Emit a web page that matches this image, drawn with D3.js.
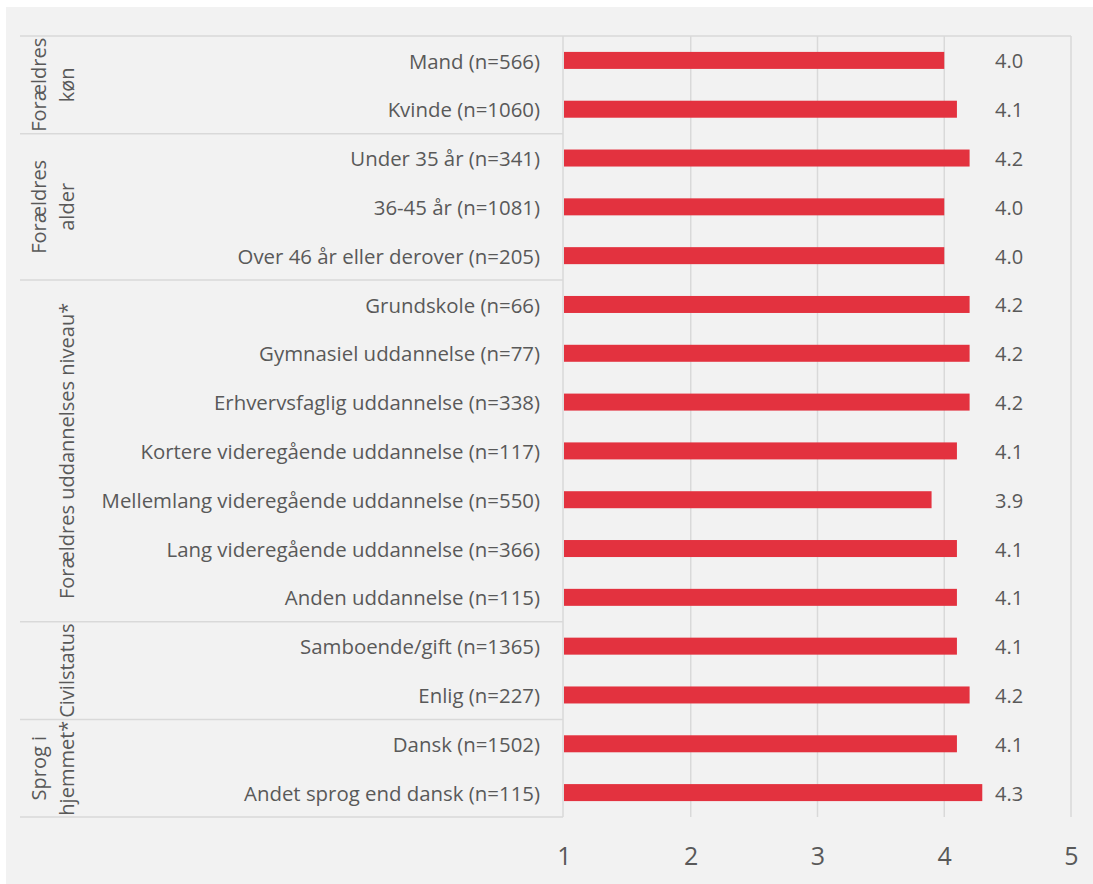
<!DOCTYPE html>
<html><head><meta charset="utf-8">
<script src="https://cdn.jsdelivr.net/npm/d3@7"></script>
<style>html,body{margin:0;padding:0;background:#fff;}svg{display:block;}</style>
</head><body>
<svg id="chart" width="1093" height="884"></svg>
<script>
const categories = [
  "Mand (n=566)", "Kvinde (n=1060)",
  "Under 35 år (n=341)", "36-45 år (n=1081)", "Over 46 år eller derover (n=205)",
  "Grundskole (n=66)", "Gymnasiel uddannelse (n=77)", "Erhvervsfaglig uddannelse (n=338)",
  "Kortere videregående uddannelse (n=117)", "Mellemlang videregående uddannelse (n=550)",
  "Lang videregående uddannelse (n=366)", "Anden uddannelse (n=115)",
  "Samboende/gift (n=1365)", "Enlig (n=227)",
  "Dansk (n=1502)", "Andet sprog end dansk (n=115)"
];
const values = [4.0, 4.1, 4.2, 4.0, 4.0, 4.2, 4.2, 4.2, 4.1, 3.9, 4.1, 4.1, 4.1, 4.2, 4.1, 4.3];
const groupNames = [["Forældres", "køn"], ["Forældres", "alder"], ["Forældres uddannelses niveau*"], ["Civilstatus"], ["Sprog i", "hjemmet*"]];
const groupSizes = [2, 3, 7, 2, 2];
const tickValues = [1, 2, 3, 4, 5];

const svg = d3.select("#chart");
const font = "'Open Sans', 'Noto Sans', sans-serif";
const textColor = "#595959";
const lineColor = "#d9d9d9";

svg.append("rect").attr("x", 6).attr("y", 7).attr("width", 1087).attr("height", 877).attr("fill", "#f2f2f2");

const x = d3.scaleLinear().domain([1, 5]).range([564, 1071]);
const y = d3.scaleBand().domain(categories).range([36, 817]).padding(0);
const barH = 17;

// vertical gridlines
svg.append("g").selectAll("line").data(tickValues.slice(1)).join("line")
  .attr("x1", d => x(d)).attr("x2", d => x(d))
  .attr("y1", 36).attr("y2", 817)
  .attr("stroke", lineColor).attr("stroke-width", 1.5);

// top border of plot
svg.append("line").attr("x1", 20).attr("x2", 1071).attr("y1", 36).attr("y2", 36)
  .attr("stroke", lineColor).attr("stroke-width", 1.5);
// axis line
svg.append("line").attr("x1", 563).attr("x2", 563).attr("y1", 36).attr("y2", 817)
  .attr("stroke", lineColor).attr("stroke-width", 1.5);

// group separators
let idx = 0;
const groups = groupSizes.map((n, i) => {
  const start = idx; idx += n;
  return { lines: groupNames[i], y0: y(categories[start]), y1: y(categories[idx - 1]) + y.bandwidth() };
});
svg.append("g").selectAll("line").data(groups).join("line")
  .attr("x1", 20).attr("x2", 563)
  .attr("y1", d => d.y1).attr("y2", d => d.y1)
  .attr("stroke", lineColor).attr("stroke-width", 1.5);

// group labels
const gl = svg.append("g").selectAll("g").data(groups).join("g")
  .attr("transform", d => `translate(0,${(d.y0 + d.y1) / 2})`);
gl.each(function (d) {
  const g = d3.select(this);
  const baselines = d.lines.length === 2 ? [46, 74] : [74];
  d.lines.forEach((t, i) => {
    g.append("text")
      .attr("transform", `translate(${baselines[i]},0) rotate(-90)`)
      .attr("text-anchor", "middle")
      .attr("font-family", font).attr("font-size", 20).attr("fill", textColor)
      .text(t);
  });
});

// bars
svg.append("g").selectAll("rect").data(values).join("rect")
  .attr("x", x(1))
  .attr("y", (d, i) => y(categories[i]) + y.bandwidth() / 2 - barH / 2)
  .attr("width", d => x(d) - x(1))
  .attr("height", barH)
  .attr("fill", "#e3323f");

// category labels
svg.append("g").selectAll("text").data(categories).join("text")
  .attr("x", 540)
  .attr("y", d => y(d) + y.bandwidth() / 2 + 1)
  .attr("dy", "0.35em")
  .attr("text-anchor", "end")
  .attr("font-family", font).attr("font-size", 20.4).attr("fill", textColor)
  .text(d => d);

// value labels
svg.append("g").selectAll("text").data(values).join("text")
  .attr("x", 995)
  .attr("y", (d, i) => y(categories[i]) + y.bandwidth() / 2 + 1)
  .attr("dy", "0.35em")
  .attr("font-family", font).attr("font-size", 20).attr("fill", textColor)
  .text(d => d3.format(".1f")(d));

// x axis tick labels
const axis = d3.axisBottom(x).tickValues(tickValues).tickSize(0).tickPadding(0).tickFormat(d3.format("d"));
const ax = svg.append("g").attr("transform", "translate(0,847)").call(axis);
ax.select(".domain").remove();
ax.selectAll("text").attr("font-family", font).attr("font-size", 25).attr("fill", textColor).attr("dy", "0.71em");
</script>
</body></html>
